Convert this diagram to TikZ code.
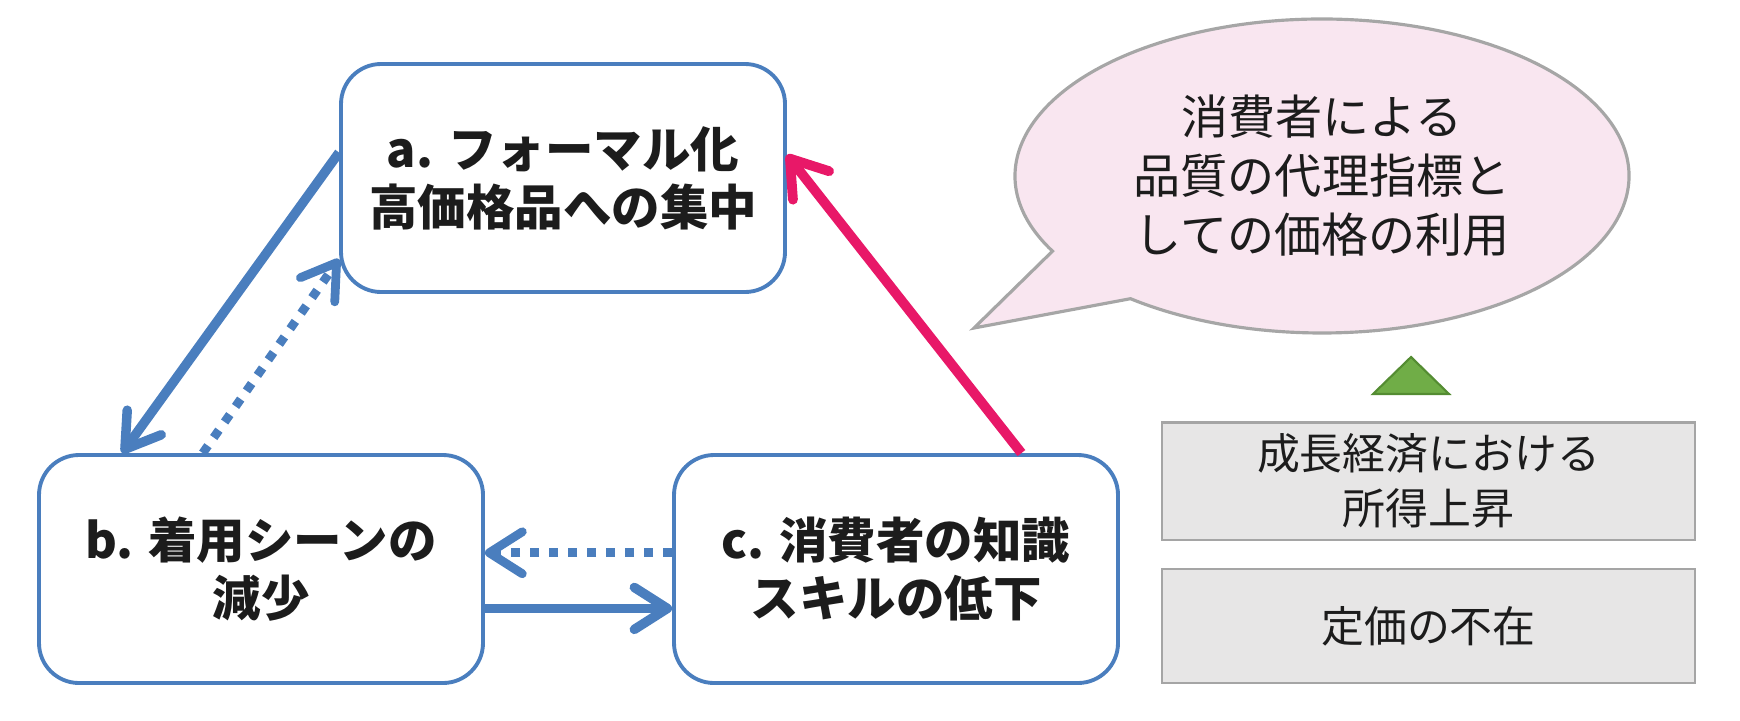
\documentclass[tikz,border=0pt]{standalone}
\usepackage{fontspec}
\newfontfamily\jpsans{Noto Sans CJK JP}
\usetikzlibrary{arrows.meta,calc}
\definecolor{loopblue}{RGB}{74,126,190}
\definecolor{loopink}{RGB}{232,24,104}
\definecolor{inktext}{RGB}{28,28,28}
\definecolor{bubblefill}{RGB}{249,230,240}
\definecolor{bubbleline}{RGB}{166,166,166}
\definecolor{factorfill}{RGB}{231,230,230}
\definecolor{factorline}{RGB}{165,165,165}
\definecolor{trifill}{RGB}{112,173,71}
\definecolor{triline}{RGB}{84,140,50}

\begin{document}
\begin{tikzpicture}[x=0.1mm,y=0.1mm,
  loopbox/.style={draw=loopblue, line width=1.1pt, rounded corners=4mm, fill=white,
    minimum width=4.44cm, minimum height=2.28cm, align=center, text=inktext,
    font=\jpsans\bfseries\fontsize{13.8}{16.5}\selectfont},
  factorbox/.style={draw=factorline, line width=0.8pt, fill=factorfill,
    minimum width=5.33cm, minimum height=1.14cm, align=center, text=inktext,
    font=\jpsans\fontsize{12.2}{15.6}\selectfont},
  solidlink/.style={draw=loopblue, line width=2.7pt,
    -{Straight Barb[round,length=3.3mm,width=4.2mm]}},
  dottedlink/.style={solidlink, line width=2.5pt, dash pattern=on 0.9mm off 1mm},
  pinklink/.style={draw=loopink, line width=2.8pt,
    -{Straight Barb[round,length=3.4mm,width=4.6mm]}}]
\useasboundingbox (0,0) rectangle (1740,720);

% the three loop boxes
\node[loopbox] (boxA) at (563,542) {a. フォーマル化\\高価格品への集中};
\node[loopbox] (boxB) at (261,151) {b. 着用シーンの\\減少};
\node[loopbox] (boxC) at (896,151) {c. 消費者の知識\\スキルの低下};

% links between the boxes
\draw[solidlink] ($(boxA.north west)!0.39!(boxA.south west)$) -- ($(boxB.north west)!0.19!(boxB.north east)$);
\draw[dottedlink] ($(boxB.north west)!0.37!(boxB.north east)$) -- ($(boxA.north west)!0.85!(boxA.south west)$);
\draw[dottedlink] ($(boxC.north west)!0.43!(boxC.south west)$) -- ($(boxB.north east)!0.43!(boxB.south east)$);
\draw[solidlink] ($(boxB.north east)!0.67!(boxB.south east)$) -- ($(boxC.north west)!0.67!(boxC.south west)$);
\draw[pinklink] ($(boxC.north west)!0.78!(boxC.north east)$) -- ($(boxA.north east)!0.40!(boxA.south east)$);

% speech bubble
\coordinate (bubblemid) at (1322,544);
\coordinate (bubbletail) at (974,392);
\draw[draw=bubbleline, line width=0.9pt, fill=bubblefill, line join=miter]
  (bubblemid) ++(208.6:307 and 157)
  arc[start angle=208.6, end angle=-128.6, x radius=307, y radius=157]
  -- (bubbletail) -- cycle;
\node[align=center, text=inktext, font=\jpsans\fontsize{13.4}{16.8}\selectfont]
  (bubble) at (bubblemid) {消費者による\\品質の代理指標と\\しての価格の利用};

% background factors
\draw[fill=trifill, draw=triline, line width=0.6pt] (1373,326) -- (1449,326) -- (1411,363) -- cycle;
\node[factorbox] (income) at (1428.5,239) {成長経済における\\所得上昇};
\node[factorbox] (noprice) at (1428.5,94) {定価の不在};
\end{tikzpicture}
\end{document}
